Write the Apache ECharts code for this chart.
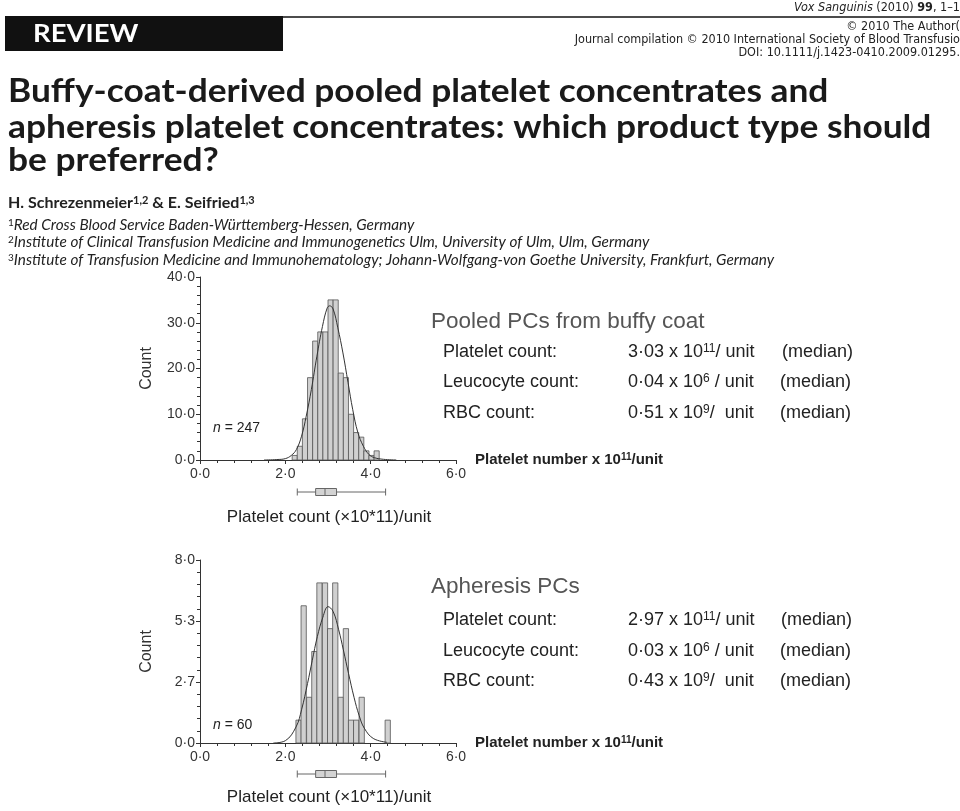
<!DOCTYPE html>
<html><head><meta charset="utf-8">
<script src="https://cdn.jsdelivr.net/npm/echarts@6/dist/echarts.min.js"></script>
<style>html,body{margin:0;padding:0;background:#fff}#c{width:960px;height:811px}</style>
</head><body><div id="c"></div>
<script>
// ---------- data ----------
const xTickValues = [0, 2, 4, 6];
const yTickValues1 = [0, 10, 20, 30, 40];
const yTickLabels2 = ['0·0', '2·7', '5·3', '8·0'];

const binWidth1 = 0.12;
const binCenters1 = [2.22, 2.34, 2.46, 2.58, 2.70, 2.82, 2.94, 3.06, 3.18, 3.30, 3.42, 3.54, 3.66, 3.78, 3.90, 4.02, 4.14];
const counts1     = [1,    3,    9,    18,   26,   28,   28,   35,   35,   19,   18,   10,   6,    5,    2,    1,    2];
const curveX1 = [1.50, 1.80, 2.00, 2.14, 2.26, 2.38, 2.49, 2.61, 2.74, 2.87, 2.98, 3.04, 3.12, 3.23, 3.35, 3.47, 3.58, 3.70, 3.83, 3.96, 4.09, 4.30, 4.60];
const curveY1 = [0.0,  0.1,  0.3,  1.0,  2.3,  5.2,  9.6,  15.4, 22.7, 29.2, 33.2, 33.7, 33.0, 28.9, 23.4, 16.9, 11.0, 6.0,  3.0,  1.2,  0.5,  0.15, 0.0];

const binWidth2 = 0.123;
const binCenters2 = [2.31, 2.43, 2.56, 2.68, 2.80, 2.93, 3.05, 3.17, 3.30, 3.42, 3.54, 3.66, 3.79, 4.40];
const counts2     = [1,    6,    2,    4,    7,    7,    5,    7,    2,    5,    1,    1,    2,    1];
const curveX2 = [1.72, 2.00, 2.25, 2.38, 2.52, 2.63, 2.75, 2.88, 3.00, 3.12, 3.25, 3.36, 3.48, 3.61, 3.73, 3.85, 4.06, 4.38];
const curveY2 = [0.0,  0.1,  0.7,  1.45, 2.6,  3.6,  4.65, 5.5,  5.96, 5.75, 4.95, 4.07, 3.05, 2.0,  1.2,  0.65, 0.2,  0.03];

// boxplot: [min, Q1, median, Q3, max]
const box1 = [2.28, 2.71, 2.93, 3.20, 4.35];
const box2 = [2.28, 2.71, 2.93, 3.20, 4.35];

// ---------- helpers ----------
const fmt = v => v.toFixed(1).replace('.', '·');
const SANS = '"Liberation Sans", Arial, sans-serif';
const HUM = 'Lato, "Open Sans", sans-serif';
const NARROW = '"Liberation Sans Narrow", "DejaVu Sans Condensed", "Open Sans", sans-serif';

function barRender(bw) {
  return function (params, api) {
    const c = api.value(0), h = api.value(1);
    const p = api.coord([c - bw / 2, h]);
    const s = api.size([bw, h]);
    return { type: 'rect', shape: { x: p[0], y: p[1], width: s[0], height: s[1] },
      style: { fill: '#d0d0d0', stroke: '#555', lineWidth: 0.8 } };
  };
}
const zip = (a, b) => a.map((v, i) => [v, b[i]]);

function xAxisVisible(gi) {
  return { type: 'value', gridIndex: gi, min: 0, max: 6, interval: 2,
    axisLine: { show: true, lineStyle: { color: '#333', width: 1 } },
    axisTick: { show: true, length: 4, lineStyle: { color: '#333' } },
    minorTick: { show: true, splitNumber: 5, length: 3, lineStyle: { color: '#333' } },
    splitLine: { show: false }, minorSplitLine: { show: false },
    axisLabel: { formatter: v => fmt(v), fontSize: 14, color: '#333', fontFamily: SANS, margin: 7 } };
}
function yAxisVisible(gi, max, interval, labelFn) {
  return { type: 'value', gridIndex: gi, min: 0, max: max, interval: interval,
    name: 'Count', nameLocation: 'middle', nameRotate: 90, nameGap: 45,
    nameTextStyle: { fontSize: 16, color: '#333', fontFamily: SANS },
    axisLine: { show: true, lineStyle: { color: '#333', width: 1 } },
    axisTick: { show: true, length: 4, lineStyle: { color: '#333' } },
    minorTick: { show: true, splitNumber: 5, length: 3, lineStyle: { color: '#333' } },
    splitLine: { show: false }, minorSplitLine: { show: false },
    axisLabel: { formatter: labelFn, fontSize: 14, color: '#333', fontFamily: SANS, margin: 5 } };
}

// ---------- graphic text ----------
const supRich = (fs) => ({ sup: { fontSize: fs, verticalAlign: 'top', fontFamily: SANS, fill: '#222' } });
function txt(x, y, text, st, extra) {
  return Object.assign({ type: 'text', x: x, y: y, silent: true,
    style: Object.assign({ text: text, fill: '#222', fontFamily: SANS, fontSize: 16, verticalAlign: 'middle', align: 'left' }, st || {}) }, extra || {});
}
const titleSt = { fontFamily: HUM, fontWeight: 'bold', fontSize: 33, fill: '#1a1a1a' };
const affSt = { fontFamily: HUM, fontStyle: 'italic', fontSize: 15.3,
  rich: { s: { fontSize: 10, verticalAlign: 'top', fontFamily: HUM, fill: '#222' } } };
const rowSt = { fontSize: 18, rich: supRich(12) };

const graphics = [
  // header
  { type: 'rect', shape: { x: 5, y: 16, width: 278, height: 35 }, style: { fill: '#111' } },
  { type: 'line', shape: { x1: 283, y1: 17, x2: 960, y2: 17 }, style: { stroke: '#111', lineWidth: 1.5 } },
  txt(33, 34, 'REVIEW', { fill: '#fff', fontFamily: HUM, fontWeight: 'bold', fontSize: 25 }, { scaleX: 1.1 }),
  txt(960, 8, '{i|Vox Sanguinis} (2010) {b|99}, 1–1', { align: 'right', fontFamily: NARROW, fontSize: 12.5,
    rich: { i: { fontStyle: 'italic', fontFamily: NARROW, fontSize: 12.5, fill: '#222' }, b: { fontWeight: 'bold', fontFamily: NARROW, fontSize: 12.5, fill: '#222' } } }),
  txt(960, 27, '© 2010 The Author(', { align: 'right', fontFamily: NARROW, fontSize: 12.5 }),
  txt(960, 40, 'Journal compilation © 2010 International Society of Blood Transfusio', { align: 'right', fontFamily: NARROW, fontSize: 12.5 }),
  txt(960, 53, 'DOI: 10.1111/j.1423-0410.2009.01295.', { align: 'right', fontFamily: NARROW, fontSize: 12.5 }),
  // title
  txt(8, 91, 'Buffy-coat-derived pooled platelet concentrates and', titleSt, { scaleX: 1.07 }),
  txt(8, 127, 'apheresis platelet concentrates: which product type should', titleSt, { scaleX: 1.07 }),
  txt(8, 160, 'be preferred?', titleSt, { scaleX: 1.07 }),
  // authors
  txt(8, 203, 'H. Schrezenmeier{s|1,2} & E. Seifried{s|1,3}', { fontFamily: HUM, fontWeight: 'bold', fontSize: 16,
    rich: { s: { fontSize: 11, fontWeight: 'bold', verticalAlign: 'top', fontFamily: HUM, fill: '#222' } } }),
  txt(8, 225, '{s|1}Red Cross Blood Service Baden-Württemberg-Hessen, Germany', affSt),
  txt(8, 242, '{s|2}Institute of Clinical Transfusion Medicine and Immunogenetics Ulm, University of Ulm, Ulm, Germany', affSt),
  txt(8, 260, '{s|3}Institute of Transfusion Medicine and Immunohematology; Johann-Wolfgang-von Goethe University, Frankfurt, Germany', affSt),

  // chart 1 texts
  txt(431, 322, 'Pooled PCs from buffy coat', { fontSize: 22.5, fill: '#555' }),
  txt(443, 352, 'Platelet count:', rowSt),
  txt(628, 352, '3·03 x 10{sup|11}/ unit', rowSt),
  txt(782, 352, '(median)', rowSt),
  txt(443, 382, 'Leucocyte count:', rowSt),
  txt(628, 382, '0·04 x 10{sup|6} / unit', rowSt),
  txt(780, 382, '(median)', rowSt),
  txt(443, 413, 'RBC count:', rowSt),
  txt(628, 413, '0·51 x 10{sup|9}/  unit', rowSt),
  txt(780, 413, '(median)', rowSt),
  txt(475, 460, 'Platelet number x 10{sup|11}/unit', { fontSize: 15, fontWeight: 'bold',
    rich: { sup: { fontSize: 10, fontWeight: 'bold', verticalAlign: 'top', fontFamily: SANS, fill: '#222' } } }),
  txt(213, 428, '{i|n} = 247', { fontSize: 14, rich: { i: { fontStyle: 'italic', fontSize: 14, fontFamily: SANS, fill: '#222' } } }),
  txt(329, 517, 'Platelet count (×10*11)/unit', { fontSize: 17, align: 'center' }),

  // chart 2 texts
  txt(431, 587, 'Apheresis PCs', { fontSize: 22.5, fill: '#555' }),
  txt(443, 620, 'Platelet count:', rowSt),
  txt(628, 620, '2·97 x 10{sup|11}/ unit', rowSt),
  txt(781, 620, '(median)', rowSt),
  txt(443, 651, 'Leucocyte count:', rowSt),
  txt(628, 651, '0·03 x 10{sup|6} / unit', rowSt),
  txt(780, 651, '(median)', rowSt),
  txt(443, 681, 'RBC count:', rowSt),
  txt(628, 681, '0·43 x 10{sup|9}/  unit', rowSt),
  txt(780, 681, '(median)', rowSt),
  txt(475, 743, 'Platelet number x 10{sup|11}/unit', { fontSize: 15, fontWeight: 'bold',
    rich: { sup: { fontSize: 10, fontWeight: 'bold', verticalAlign: 'top', fontFamily: SANS, fill: '#222' } } }),
  txt(213, 725, '{i|n} = 60', { fontSize: 14, rich: { i: { fontStyle: 'italic', fontSize: 14, fontFamily: SANS, fill: '#222' } } }),
  txt(329, 797, 'Platelet count (×10*11)/unit', { fontSize: 17, align: 'center' })
];

// ---------- chart ----------
const chart = echarts.init(document.getElementById('c'), null, { renderer: 'canvas' });
chart.setOption({
  backgroundColor: '#fff',
  animation: false,
  grid: [
    { left: 200, top: 277, width: 256, height: 183 },
    { left: 200, top: 560, width: 256, height: 183 },
    { left: 200, top: 484, width: 256, height: 16 },
    { left: 200, top: 766, width: 256, height: 16 }
  ],
  xAxis: [
    xAxisVisible(0),
    xAxisVisible(1),
    { type: 'value', gridIndex: 2, min: 0, max: 6, show: false },
    { type: 'value', gridIndex: 3, min: 0, max: 6, show: false }
  ],
  yAxis: [
    yAxisVisible(0, yTickValues1[yTickValues1.length - 1], yTickValues1[1] - yTickValues1[0], v => fmt(v)),
    yAxisVisible(1, 8, 8 / 3, v => yTickLabels2[Math.round(v / (8 / 3))]),
    { type: 'category', gridIndex: 2, data: ['box'], show: false },
    { type: 'category', gridIndex: 3, data: ['box'], show: false }
  ],
  series: [
    { type: 'custom', xAxisIndex: 0, yAxisIndex: 0, renderItem: barRender(binWidth1), data: zip(binCenters1, counts1), encode: { x: 0, y: 1 } },
    { type: 'line', xAxisIndex: 0, yAxisIndex: 0, data: zip(curveX1, curveY1), smooth: 0.4, symbol: 'none', lineStyle: { color: '#333', width: 1 }, z: 5 },
    { type: 'custom', xAxisIndex: 1, yAxisIndex: 1, renderItem: barRender(binWidth2), data: zip(binCenters2, counts2), encode: { x: 0, y: 1 } },
    { type: 'line', xAxisIndex: 1, yAxisIndex: 1, data: zip(curveX2, curveY2), smooth: 0.4, symbol: 'none', lineStyle: { color: '#333', width: 1 }, z: 5 },
    { type: 'boxplot', xAxisIndex: 2, yAxisIndex: 2, data: [box1], boxWidth: [7, 7],
      itemStyle: { color: '#d3d3d3', borderColor: '#666', borderWidth: 1 } },
    { type: 'boxplot', xAxisIndex: 3, yAxisIndex: 3, data: [box2], boxWidth: [7, 7],
      itemStyle: { color: '#d3d3d3', borderColor: '#666', borderWidth: 1 } }
  ],
  graphic: graphics
});
</script></body></html>
